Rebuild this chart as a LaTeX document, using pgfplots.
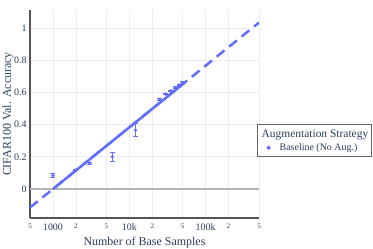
\documentclass[border=0pt]{standalone}
\usepackage{fontspec}
\setmainfont{Liberation Serif}
\usepackage{pgfplots}
\pgfplotsset{compat=1.18}
\definecolor{pblue}{HTML}{636EFA}
\definecolor{ptext}{HTML}{2A3F5F}
\definecolor{pgrid}{HTML}{EAEDF2}
\definecolor{pzero}{HTML}{B4B4B4}
\definecolor{paxis}{HTML}{555555}
\pgfplotstableread{
x y e
1000 0.083 0.013
2000 0.118 0.004
3000 0.160 0.005
6000 0.200 0.028
12000 0.365 0.041
25000 0.557 0.005
30000 0.590 0.005
35000 0.610 0.005
40000 0.630 0.005
45000 0.645 0.005
50000 0.660 0.005
}\datatable
\pgfplotstableread{
x y
500 -0.115
500000 1.034
}\fitfull
\pgfplotstableread{
x y
1000 0.0
52000 0.657
}\fitsolid
\newcommand{\sm}[1]{{\fontsize{7}{7}\selectfont #1}}
\begin{document}
\begin{tikzpicture}
\path[use as bounding box] (0,0) rectangle (373bp,249bp);
\begin{axis}[
  at={(30bp,31bp)}, anchor=south west,
  scale only axis, width=229bp, height=208bp,
  xmode=log, xmin=500, xmax=500000, ymin=-0.18, ymax=1.112,
  xtick={500,1000,2000,5000,10000,20000,50000,100000,200000,500000},
  xticklabels={\sm{5},1000,\sm{2},\sm{5},10k,\sm{2},\sm{5},100k,\sm{2},\sm{5}},
  ytick={0,0.2,0.4,0.6,0.8,1},
  axis x line=bottom, axis y line=left,
  axis line style={-, paxis, line width=1.2bp},
  grid=major, major grid style={pgrid, line width=0.8bp},
  major tick length=0pt,
  /pgf/number format/assume math mode=true,
  ticklabel style={text=ptext, font=\fontsize{10}{10}\selectfont},
  xticklabel style={yshift=-2bp},
  label style={text=ptext, font=\fontsize{12}{12}\selectfont},
  xlabel={Number of Base Samples},
  ylabel={CIFAR100 Val. Accuracy},
  xlabel style={at={(axis description cs:0.5,-0.119)}, anchor=center},
  ylabel style={at={(axis description cs:-0.096,0.5)}, anchor=center},
  legend style={at={(0.992,0.452)}, anchor=north west, draw=gray!80!black, line width=1bp,
    font=\fontsize{10}{12}\selectfont, text=ptext, inner xsep=1bp, inner ysep=3bp,
    row sep=1bp, column sep=4bp},
  legend cell align=left,
]
\addplot[pzero, line width=1.2bp, forget plot] coordinates {(500,0) (500000,0)};
\addplot[pblue, line width=2.5bp, dash pattern=on 10bp off 6bp, forget plot] table {\fitfull};
\addplot[pblue, line width=2.5bp, forget plot] table {\fitsolid};
\addlegendimage{empty legend}
\addlegendentry{\fontsize{11.5}{14}\selectfont\hspace*{-18bp}Augmentation Strategy}
\addplot[only marks, mark=*, mark size=1.5bp, pblue,
  legend image code/.code={\path (0bp,0bp) (14bp,0bp);
    \draw[pblue, fill=pblue] (9.5bp,0bp) circle (1.5bp);},
  error bars/.cd, y dir=both, y explicit,
  error bar style={line width=1bp, pblue},
  error mark options={rotate=90, mark size=2.5bp, line width=1bp, pblue}]
  table[x=x, y=y, y error=e] {\datatable};
\addlegendentry{Baseline (No Aug.)}
\end{axis}
\end{tikzpicture}
\end{document}
